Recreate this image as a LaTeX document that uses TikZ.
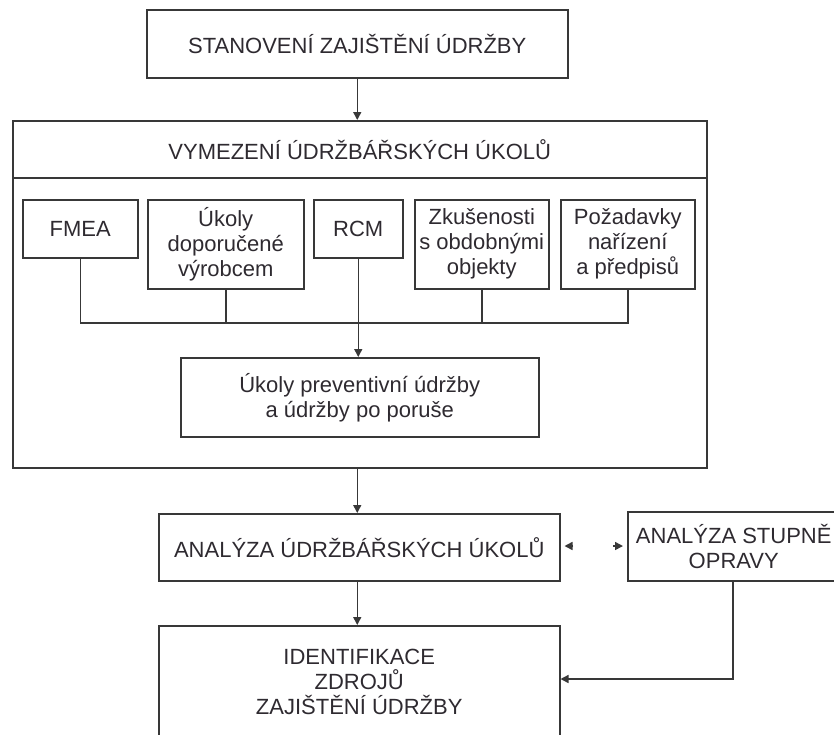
\documentclass[tikz,border=0pt]{standalone}
\usepackage{fontspec}
\setmainfont{Liberation Sans}
\usetikzlibrary{arrows.meta,calc}
\definecolor{ln}{HTML}{383838}
\definecolor{tx}{HTML}{2E2A30}
\tikzset{
  bx/.style n args={2}{draw=ln, line width=1.5pt, anchor=north west, inner sep=0pt,
    minimum width=#1, minimum height=#2, align=center, text=tx,
    font=\fontsize{22}{25}\selectfont},
  wire/.style={draw=ln, line width=1.5pt},
  arr/.style={wire, -{Triangle[length=8pt,width=8pt]}},
}
\begin{document}
\begin{tikzpicture}[x=1pt,y=-1pt]
\useasboundingbox (0,0) rectangle (834,734);
% top
\node[bx={421pt}{68pt}] (stan) at (146,9) {STANOVENÍ ZAJIŠTĚNÍ ÚDRŽBY};
% big box
\node[bx={694pt}{347pt}] (big) at (12,120) {};
\node[bx={694pt}{57pt}] (vym) at (12,120) {VYMEZENÍ ÚDRŽBÁŘSKÝCH ÚKOLŮ};
% sources
\node[bx={115pt}{58pt}] (fmea) at (22,199) {FMEA};
\node[bx={156pt}{89pt}] (dop) at (147,199) {Úkoly\\doporučené\\výrobcem};
\node[bx={89pt}{58pt}] (rcm) at (313,199) {RCM};
\node[bx={134pt}{89pt}] (zku) at (414,199) {Zkušenosti\\s obdobnými\\objekty};
\node[bx={134pt}{89pt}] (poz) at (560,199) {Požadavky\\nařízení\\a předpisů};
\node[bx={358pt}{79pt}] (inner) at (180,357) {Úkoly preventivní údržby\\a údržby po poruše};
% lower
\node[bx={401pt}{67pt}] (ana) at (158,513) {ANALÝZA ÚDRŽBÁŘSKÝCH ÚKOLŮ};
\node[bx={212pt}{69pt}] (stup) at (627,511) {ANALÝZA STUPNĚ\\OPRAVY};
\node[bx={401pt}{112pt}] (ident) at (158,625) {IDENTIFIKACE\\ZDROJŮ\\ZAJIŠTĚNÍ ÚDRŽBY};
% helper coordinates
\coordinate (bus) at (0,323);
\coordinate (corner) at (733,679);
\coordinate (gapL) at (573,546);
\coordinate (gapR) at (613,546);
% connectors
\draw[arr] (stan.south) -- (stan.south |- big.north);
\draw[wire] (fmea.south) -- (fmea.south |- bus) -- (poz.south |- bus) -- (poz.south);
\draw[wire] (dop.south) -- (dop.south |- bus);
\draw[wire] (zku.south) -- (zku.south |- bus);
\draw[arr] (rcm.south) -- (rcm.south |- inner.north);
\draw[arr] (stan.south |- big.south) -- (stan.south |- ana.north);
\draw[arr] (stan.south |- ana.south) -- (stan.south |- ident.north);
\draw[arr] (stup.south -| corner) -- (corner) -- (corner -| ident.east);
\draw[arr] (gapL) -- ($(ana.east |- gapL)+(4,0)$);
\draw[arr] (gapR) -- ($(stup.west |- gapR)+(-4,0)$);
\end{tikzpicture}
\end{document}
